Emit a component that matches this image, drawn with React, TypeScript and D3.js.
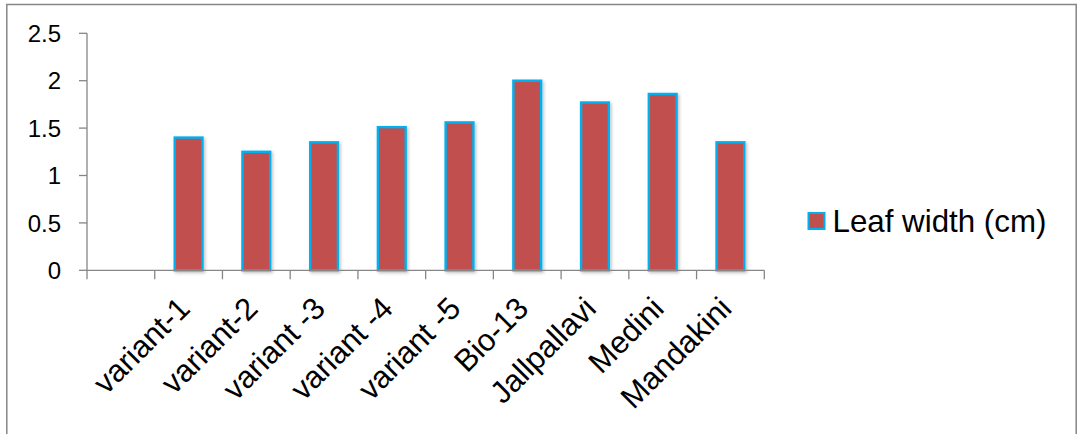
import React from "react";
import * as d3 from "d3";

const categories = ["", "variant-1", "variant-2", "variant -3", "variant -4", "variant -5", "Bio-13", "Jallpallavi", "Medini", "Mandakini"];
const leafWidth = [null, 1.4, 1.25, 1.35, 1.51, 1.56, 2.0, 1.77, 1.86, 1.35];
const yTicks = [0, 0.5, 1, 1.5, 2, 2.5];
const seriesName = "Leaf width (cm)";

const W = 1077;
const H = 434;
const left = 87;
const right = 764.3;
const top = 33.3;
const bottom = 270.3;

const FILL = "#C0504D";
const EDGE = "#00B0F0";
const AXIS = "#868686";

export default function App() {
  const x = d3.scaleBand<string>().domain(categories.map((c, i) => String(i))).range([left, right]).paddingInner(0).paddingOuter(0);
  const y = d3.scaleLinear().domain([0, 2.5]).range([bottom, top]);
  const bw = x.bandwidth();
  const barW = bw * 0.41;

  return (
    <svg width={W} height={H} style={{ position: "absolute", left: 0, top: 0, background: "#fff" }} fontFamily="'Liberation Sans', Arial, sans-serif">
      <defs>
        <filter id="barShadow" x="-30%" y="-10%" width="160%" height="130%">
          <feDropShadow dx="1.5" dy="1.5" stdDeviation="1.5" floodColor="#000" floodOpacity="0.25" />
        </filter>
      </defs>
      <rect x={6.8} y={4.5} width={1069.4} height={440} fill="#fff" stroke={AXIS} strokeWidth={1.5} />

      {/* y axis */}
      <line x1={left} x2={left} y1={top} y2={bottom} stroke={AXIS} strokeWidth={1.3} />
      {yTicks.map((t) => (
        <g key={t}>
          <line x1={left - 8} x2={left} y1={y(t)} y2={y(t)} stroke={AXIS} strokeWidth={1.3} />
          <text x={left - 26} y={y(t)} dy="0.36em" textAnchor="end" fontSize={24} fill="#000">
            {String(t)}
          </text>
        </g>
      ))}

      {/* bars */}
      {leafWidth.map((v, i) =>
        v == null ? null : (
          <rect
            key={i}
            x={(x(String(i)) as number) + bw / 2 - barW / 2}
            y={y(v)}
            width={barW}
            height={y(0) - y(v)}
            fill={FILL}
            stroke={EDGE}
            strokeWidth={2.4}
            filter="url(#barShadow)"
          />
        )
      )}

      {/* x axis */}
      <line x1={left} x2={right} y1={bottom} y2={bottom} stroke={AXIS} strokeWidth={1.3} />
      {d3.range(categories.length + 1).map((i) => (
        <line key={i} x1={left + i * bw} x2={left + i * bw} y1={bottom} y2={bottom + 9} stroke={AXIS} strokeWidth={1.3} />
      ))}
      {categories.map((c, i) => {
        const cx = (x(String(i)) as number) + bw / 2;
        return (
          <text key={i} transform={`translate(${cx + 3},${bottom + 40}) rotate(-45)`} textAnchor="end" fontSize={31} fill="#000">
            {c}
          </text>
        );
      })}

      {/* legend */}
      <rect x={808.5} y={213} width={16} height={16} fill={FILL} stroke={EDGE} strokeWidth={2} />
      <text x={832.5} y={231.5} fontSize={31.3} fill="#000">
        {seriesName}
      </text>
    </svg>
  );
}
